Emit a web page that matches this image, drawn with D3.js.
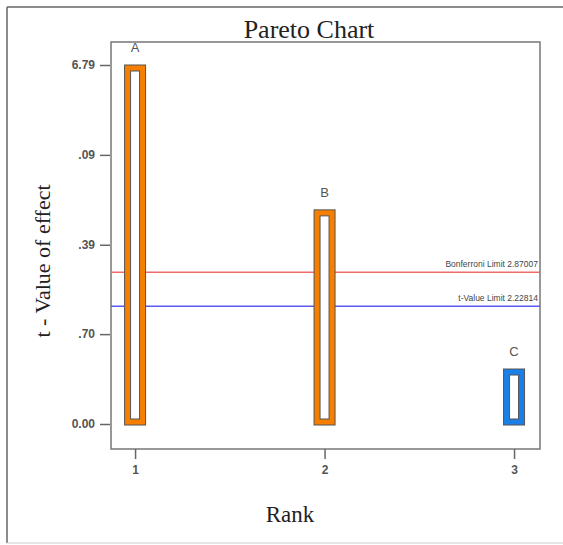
<!DOCTYPE html>
<html>
<head>
<meta charset="utf-8">
<script src="https://cdn.jsdelivr.net/npm/d3@7"></script>
<style>
  body { margin: 0; background: #fff; }
  svg { display: block; }
</style>
</head>
<body>
<div id="chart"></div>
<script>
// effects, ranked
const effectNames = ["A", "B", "C"];
const ranks = [1, 2, 3];
const tValues = [6.79, 4.05, 1.04];
const barColors = ["#f77f00", "#f77f00", "#1a7fe6"];

// y axis ticks (labels as printed on the chart)
const yTickValues = [0, 1.70, 3.39, 5.09, 6.79];
const yTickLabels = ["0.00", ".70", ".39", ".09", "6.79"];

// limit lines
const limitNames = ["Bonferroni Limit 2.87007", "t-Value Limit 2.22814"];
const limitValues = [2.87007, 2.22814];
const limitColors = ["#f06a6a", "#5a5af0"];

const width = 563, height = 545;
const box = { left: 111, top: 42, right: 540, bottom: 449 };

const svg = d3.select("#chart").append("svg")
    .attr("width", width)
    .attr("height", height);

// outer frame
svg.append("line").attr("x1", 7).attr("x2", 7).attr("y1", 7).attr("y2", 543)
    .attr("stroke", "#666").attr("stroke-width", 1.5);
svg.append("line").attr("x1", 7).attr("x2", 563).attr("y1", 7).attr("y2", 7)
    .attr("stroke", "#666").attr("stroke-width", 1.5);
svg.append("line").attr("x1", 7).attr("x2", 563).attr("y1", 543).attr("y2", 543)
    .attr("stroke", "#ccc").attr("stroke-width", 1);

const x = d3.scaleLinear().domain([0.873, 3.137]).range([box.left, box.right]);
const y = d3.scaleLinear().domain([0, 6.79]).range([424, 65]);

// plot box
svg.append("rect")
    .attr("x", box.left).attr("y", box.top)
    .attr("width", box.right - box.left).attr("height", box.bottom - box.top)
    .attr("fill", "none").attr("stroke", "#777").attr("stroke-width", 1.5);

// y axis
const yAxis = d3.axisLeft(y)
    .tickValues(yTickValues)
    .tickFormat((d, i) => yTickLabels[i])
    .tickSize(10)
    .tickPadding(5);
const gy = svg.append("g")
    .attr("transform", "translate(" + (box.left - 1) + ",0)")
    .call(yAxis);
gy.select(".domain").remove();
gy.selectAll("line").attr("stroke", "#666").attr("stroke-width", 1.5);
gy.selectAll("text").attr("fill", "#555")
    .style("font-family", "'Liberation Sans', Arial, sans-serif")
    .style("font-size", "12px").style("font-weight", "bold");

// x axis
const xAxis = d3.axisBottom(x)
    .tickValues(ranks)
    .tickFormat(d3.format("d"))
    .tickSize(10)
    .tickPadding(6);
const gx = svg.append("g")
    .attr("transform", "translate(0," + box.bottom + ")")
    .call(xAxis);
gx.select(".domain").remove();
gx.selectAll("line").attr("stroke", "#666").attr("stroke-width", 1.5);
gx.selectAll("text").attr("fill", "#555")
    .style("font-family", "'Liberation Sans', Arial, sans-serif")
    .style("font-size", "12px").style("font-weight", "bold");

// limit lines
limitValues.forEach((v, i) => {
  svg.append("line")
      .attr("x1", box.left).attr("x2", box.right)
      .attr("y1", y(v)).attr("y2", y(v))
      .attr("stroke", limitColors[i]).attr("stroke-width", 1.5);
  svg.append("text")
      .attr("x", box.right - 2).attr("y", y(v) - 5)
      .attr("text-anchor", "end")
      .attr("fill", "#444")
      .style("font-family", "'Liberation Sans', Arial, sans-serif")
      .style("font-size", "8.5px")
      .text(limitNames[i]);
});

// bars: coloured frame with white centre
const barW = 21, inset = 6;
const bars = svg.selectAll("g.bar")
    .data(effectNames.map((n, i) => ({ name: n, rank: ranks[i], t: tValues[i], color: barColors[i] })))
    .enter().append("g").attr("class", "bar");

bars.append("rect")
    .attr("x", d => x(d.rank) - barW / 2)
    .attr("y", d => y(d.t))
    .attr("width", barW)
    .attr("height", d => y(0) - y(d.t) + 1)
    .attr("fill", d => d.color)
    .attr("stroke", "#555").attr("stroke-width", 1);

bars.append("rect")
    .attr("x", d => x(d.rank) - barW / 2 + inset)
    .attr("y", d => y(d.t) + inset)
    .attr("width", barW - 2 * inset)
    .attr("height", d => y(0) - y(d.t) + 1 - 2 * inset)
    .attr("fill", "#fff")
    .attr("stroke", "#555").attr("stroke-width", 1);

bars.append("text")
    .attr("x", d => x(d.rank))
    .attr("y", d => y(d.t) - 13)
    .attr("text-anchor", "middle")
    .attr("fill", "#555")
    .style("font-family", "'Liberation Sans', Arial, sans-serif")
    .style("font-size", "13px")
    .text(d => d.name);

// titles
svg.append("text")
    .attr("x", 309).attr("y", 38)
    .attr("text-anchor", "middle")
    .attr("fill", "#222")
    .style("font-family", "'Liberation Serif', 'Times New Roman', serif")
    .style("font-size", "26px")
    .text("Pareto Chart");

svg.append("text")
    .attr("x", 290).attr("y", 522)
    .attr("text-anchor", "middle")
    .attr("fill", "#222")
    .style("font-family", "'Liberation Serif', 'Times New Roman', serif")
    .style("font-size", "23px")
    .text("Rank");

svg.append("text")
    .attr("transform", "translate(50,261) rotate(-90)")
    .attr("text-anchor", "middle")
    .attr("fill", "#222")
    .style("font-family", "'Liberation Serif', 'Times New Roman', serif")
    .style("font-size", "22px")
    .text("t - Value of effect");
</script>
</body>
</html>
